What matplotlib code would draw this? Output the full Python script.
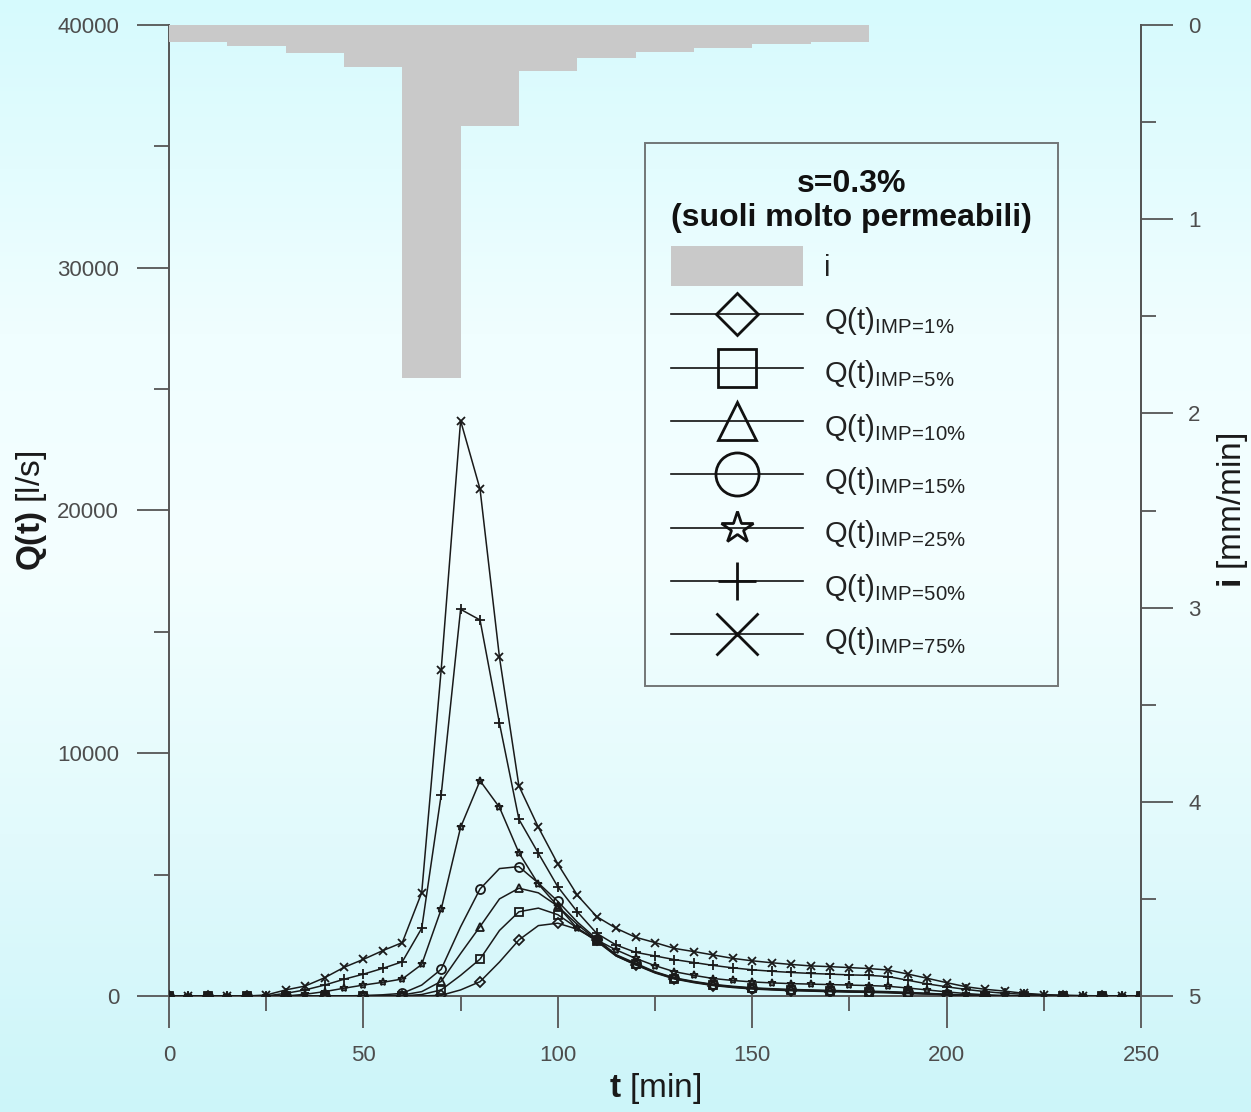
import numpy as np
import matplotlib
matplotlib.use('Agg')
import matplotlib.pyplot as plt
from matplotlib.lines import Line2D
from matplotlib.patches import Patch
from matplotlib.font_manager import FontProperties
from matplotlib.colors import LinearSegmentedColormap

plt.rcParams['font.family'] = ['Liberation Sans', 'DejaVu Sans']
plt.rcParams['mathtext.fontset'] = 'custom'
plt.rcParams['mathtext.rm'] = 'Liberation Sans'
plt.rcParams['mathtext.bf'] = 'Liberation Sans:bold'
plt.rcParams['mathtext.it'] = 'Liberation Sans:italic'
plt.rcParams['mathtext.sf'] = 'Liberation Sans'

# ---------------- data ----------------
t_min = list(range(0, 255, 5))

q_imp75 = [0, 0, 0, 0, 0, 40, 250, 410, 750, 1180, 1510, 1870,
           2200, 4260, 13430, 23700, 20880, 13950, 8650, 6950, 5440, 4160, 3270, 2790,
           2420, 2200, 1960, 1830, 1690, 1550, 1450, 1370, 1300, 1240, 1210, 1170,
           1130, 1070, 905, 730, 550, 380, 275, 200, 110, 60, 30, 15, 5, 0, 0]
q_imp50 = [0, 0, 0, 0, 0, 0, 110, 250, 450, 690, 900, 1140,
           1410, 2790, 8280, 15930, 15490, 11230, 7280, 5880, 4500, 3470, 2580, 2100,
           1800, 1650, 1500, 1380, 1260, 1160, 1080, 1020, 970, 930, 900, 870,
           850, 800, 650, 500, 380, 270, 180, 110, 70, 40, 20, 10, 0, 0, 0]
q_imp25 = [0, 0, 0, 0, 0, 0, 0, 70, 180, 320, 450, 565,
           700, 1300, 3570, 6950, 8870, 7770, 5900, 4610, 3700, 2790, 2310, 1900,
           1550, 1250, 1000, 850, 720, 640, 580, 540, 510, 490, 470, 450,
           430, 400, 330, 250, 170, 100, 50, 20, 0, 0, 0, 0, 0, 0, 0]
q_imp15 = [0, 0, 0, 0, 0, 0, 0, 0, 0, 0, 20, 50,
           110, 450, 1100, 2850, 4410, 5250, 5330, 4650, 3900, 3050, 2350, 1700,
           1350, 1000, 750, 600, 480, 400, 340, 300, 270, 250, 230, 210,
           200, 180, 150, 110, 70, 40, 20, 0, 0, 0, 0, 0, 0, 0, 0]
q_imp10 = [0, 0, 0, 0, 0, 0, 0, 0, 0, 0, 0, 0,
           40, 180, 600, 1750, 2860, 4000, 4440, 4250, 3700, 2950, 2300, 1680,
           1320, 980, 730, 580, 460, 380, 320, 280, 250, 230, 210, 190,
           180, 160, 130, 100, 60, 35, 15, 0, 0, 0, 0, 0, 0, 0, 0]
q_imp5 = [0, 0, 0, 0, 0, 0, 0, 0, 0, 0, 0, 0,
          0, 60, 250, 850, 1520, 2700, 3470, 3620, 3350, 2800, 2250, 1650,
          1300, 970, 720, 570, 450, 370, 310, 270, 240, 220, 200, 180,
          170, 150, 120, 90, 55, 30, 15, 0, 0, 0, 0, 0, 0, 0, 0]
q_imp1 = [0, 0, 0, 0, 0, 0, 0, 0, 0, 0, 0, 0,
          0, 0, 30, 250, 590, 1400, 2310, 2900, 3000, 2750, 2300, 1650,
          1280, 950, 700, 550, 430, 350, 290, 250, 220, 200, 180, 160,
          150, 130, 100, 80, 50, 25, 10, 0, 0, 0, 0, 0, 0, 0, 0]

rain_start = [0, 15, 30, 45, 60, 75, 90, 105, 120, 135, 150, 165]
rain_i = [0.086, 0.106, 0.142, 0.218, 1.82, 0.52, 0.237, 0.172, 0.137, 0.117, 0.100, 0.089]

labels = ['1', '5', '10', '15', '25', '50', '75']
series = [q_imp1, q_imp5, q_imp10, q_imp15, q_imp25, q_imp50, q_imp75]
markers = ['D', 's', '^', 'o', '*', '+', 'x']
plot_ms = [5, 6, 6, 6.5, 6, 7, 6]
legend_ms = [21, 28, 28, 31, 24, 28, 30]
mevery = [2, 2, 2, 2, 1, 1, 1]

# ---------------- figure ----------------
W, H = 1251, 1112
fig = plt.figure(figsize=(W / 100, H / 100), dpi=100)

# background gradient
bg = fig.add_axes([0, 0, 1, 1], zorder=-10)
cmap = LinearSegmentedColormap.from_list('bg', [
    (0.0, (214/255, 250/255, 253/255)),
    (0.3, (240/255, 254/255, 255/255)),
    (0.5, (244/255, 255/255, 255/255)),
    (0.75, (226/255, 250/255, 252/255)),
    (1.0, (204/255, 245/255, 249/255))])
grad = np.linspace(0, 1, 256).reshape(-1, 1)
bg.imshow(grad, aspect='auto', cmap=cmap, extent=[0, 1, 0, 1], origin='upper')
bg.set_axis_off()

L, R, T, B = 169, 1141, 25, 996
ax = fig.add_axes([L / W, 1 - B / H, (R - L) / W, (B - T) / H])
ax.set_facecolor('none')

line_col = '#1a1a1a'
for s, m, ms, me in zip(series, markers, plot_ms, mevery):
    ax.plot(t_min, s, color=line_col, lw=1.1, marker=m, ms=ms, markevery=me,
            mfc='none', mec=line_col, mew=1.3, zorder=3)

ax.set_xlim(0, 250)
ax.set_ylim(0, 40000)

spine_col = '#555555'
tick_col = '#4d4d4d'
for side in ['left', 'bottom', 'right']:
    ax.spines[side].set_color(spine_col)
    ax.spines[side].set_linewidth(1.4)
ax.spines['top'].set_visible(False)

ax.set_xticks(np.arange(0, 251, 50))
ax.set_xticks(np.arange(0, 251, 25), minor=True)
ax.set_yticks(np.arange(0, 40001, 10000))
ax.set_yticks(np.arange(0, 40001, 5000), minor=True)
ax.tick_params(axis='both', which='major', direction='out', length=23, width=1.3,
               color=spine_col, labelsize=16, labelcolor=tick_col)
ax.tick_params(axis='both', which='minor', direction='out', length=11, width=1.3,
               color=spine_col)
ax.tick_params(axis='y', which='major', pad=13)
ax.tick_params(axis='x', which='major', pad=12)

ax.set_xlabel(r'$\mathbf{t}$ [min]', fontsize=24, color='#1a1a1a', labelpad=4)
ax.set_ylabel(r'$\mathbf{Q(t)}$ [l/s]', fontsize=24, color='#1a1a1a', labelpad=6)

# hyetograph on right axis
ax2 = ax.twinx()
ax2.set_facecolor('none')
ax2.bar(rain_start, rain_i, width=15, align='edge', color='#c9c9c9',
        edgecolor='none', zorder=2)
ax2.set_ylim(5, 0)
ax2.set_xlim(0, 250)
for side in ['left', 'bottom', 'top']:
    ax2.spines[side].set_visible(False)
ax2.spines['right'].set_color(spine_col)
ax2.spines['right'].set_linewidth(1.4)
ax2.set_yticks(np.arange(0, 5.01, 1))
ax2.set_yticks(np.arange(0, 5.01, 0.5), minor=True)
ax2.tick_params(axis='y', which='major', direction='out', length=23, width=1.3,
                color=spine_col, labelsize=16, labelcolor=tick_col, pad=11)
ax2.tick_params(axis='y', which='minor', direction='out', length=11, width=1.3,
                color=spine_col)
ax2.set_ylabel(r'$\mathbf{i}$ [mm/min]', fontsize=24, color='#1a1a1a',
               rotation=90, labelpad=10)

# legend
handles = [Patch(facecolor='#c9c9c9', edgecolor='none')]
names = ['i']
for m, ms, lab in zip(markers, legend_ms, labels):
    handles.append(Line2D([], [], color='#111111', lw=1.2, marker=m, ms=ms,
                          mfc='none', mec='#111111', mew=2.0))
    names.append(r'$\mathrm{Q(t)}_{\mathrm{IMP\!=\!' + lab + r'\%}}$')

leg = ax2.legend(handles, names, loc='upper left',
                 bbox_to_anchor=((645 - L) / (R - L), (B - 143) / (B - T)),
                 borderaxespad=0, fontsize=21, handlelength=4.5, handleheight=1.73,
                 handletextpad=0.75, labelspacing=0.46, borderpad=0.9,
                 fancybox=False, frameon=True, alignment='left',
                 title='s=0.3%\n(suoli molto permeabili)',
                 title_fontproperties=FontProperties(family='Liberation Sans',
                                                     weight='bold', size=23))
leg.get_frame().set_edgecolor('#555555')
leg.get_frame().set_linewidth(1.4)
leg.get_frame().set_facecolor('none')
for txt in leg.get_texts():
    txt.set_color('#222222')
leg.get_title().set_color('#111111')
leg.get_title().set_linespacing(1.15)
leg.get_title().set_multialignment('center')

fig.savefig('out.png', dpi=100)
